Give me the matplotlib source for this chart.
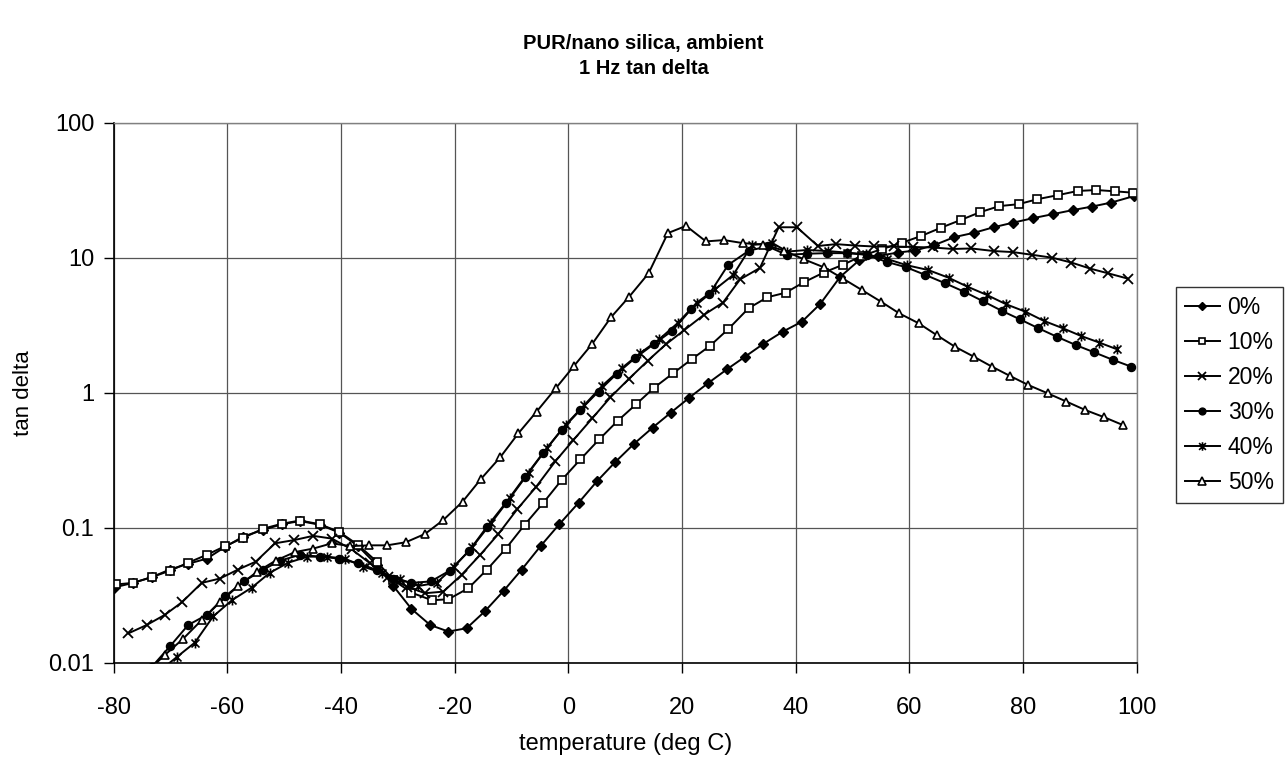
import matplotlib
matplotlib.use("Agg")
import matplotlib.pyplot as plt
from matplotlib.path import Path

plt.rcParams["font.family"] = ["Liberation Sans", "DejaVu Sans"]
plt.rcParams["axes.unicode_minus"] = False

labels = ["0%", "10%", "20%", "30%", "40%", "50%"]

temp_0 = [-80, -76.6, -73.3, -70.1, -66.9, -63.6, -60.4, -57.2, -53.8, -50.4,
          -47.2, -43.7, -40.3, -37.0, -33.7, -30.8, -27.6, -24.3, -21.1, -17.9,
          -14.7, -11.4, -8.2, -4.9, -1.6, 1.8, 5.0, 8.2, 11.6, 14.8,
          18.0, 21.3, 24.5, 27.9, 31.1, 34.3, 37.7, 41.1, 44.3, 47.8,
          51.2, 54.5, 57.9, 61.0, 64.4, 67.9, 71.4, 74.8, 78.3, 81.7,
          85.2, 88.7, 92.1, 95.5, 99.5]
tand_0 = [0.036, 0.039, 0.043, 0.049, 0.054, 0.059, 0.072, 0.086, 0.096, 0.106,
          0.112, 0.105, 0.092, 0.073, 0.053, 0.037, 0.025, 0.019, 0.017, 0.018,
          0.024, 0.034, 0.049, 0.073, 0.106, 0.153, 0.22, 0.305, 0.42, 0.55,
          0.71, 0.92, 1.17, 1.49, 1.85, 2.30, 2.83, 3.36, 4.54, 7.2,
          9.6, 10.3, 10.9, 11.3, 12.4, 14.2, 15.3, 16.8, 18.2, 19.6,
          21.0, 22.5, 23.9, 25.6, 28.6]

temp_10 = [-79.5, -76.6, -73.3, -70.1, -66.9, -63.6, -60.4, -57.2, -53.8, -50.4,
           -47.2, -43.7, -40.3, -37.0, -33.7, -30.8, -27.6, -24.0, -21.1, -17.6,
           -14.3, -11.0, -7.7, -4.4, -1.2, 2.1, 5.4, 8.7, 11.9, 15.1,
           18.4, 21.7, 24.9, 28.1, 31.7, 35.0, 38.2, 41.5, 44.9, 48.4,
           51.6, 55.2, 58.7, 62.1, 65.6, 69.0, 72.4, 75.8, 79.2, 82.5,
           86.2, 89.6, 92.9, 96.2, 99.3]
tand_10 = [0.038, 0.039, 0.043, 0.048, 0.055, 0.063, 0.073, 0.084, 0.098, 0.107,
           0.113, 0.106, 0.093, 0.0745, 0.056, 0.041, 0.033, 0.029, 0.0295, 0.0356,
           0.049, 0.070, 0.105, 0.153, 0.225, 0.32, 0.45, 0.62, 0.82, 1.09,
           1.39, 1.77, 2.22, 2.95, 4.22, 5.09, 5.5, 6.6, 7.75, 8.9,
           10.3, 11.6, 12.9, 14.5, 16.7, 19.0, 21.7, 24.1, 24.9, 27.1,
           29.1, 31.2, 31.7, 31.0, 30.3]

temp_20 = [-77.4, -74.2, -71.0, -68.0, -64.5, -61.3, -58.1, -55.0, -51.6, -48.2,
           -44.9, -41.6, -38.1, -34.9, -31.7, -28.4, -25.2, -22.0, -18.8, -15.5,
           -12.3, -9.0, -5.7, -2.3, 0.9, 4.2, 7.4, 10.6, 14.0, 17.2,
           20.4, 23.8, 27.2, 30.2, 33.7, 37.0, 40.2, 43.9, 47.1, 50.4,
           53.8, 57.2, 60.6, 64.1, 67.6, 70.9, 74.8, 78.2, 81.6, 85.1,
           88.5, 91.8, 95.0, 98.4]
tand_20 = [0.0165, 0.019, 0.0226, 0.028, 0.039, 0.042, 0.049, 0.056, 0.0766, 0.081,
           0.087, 0.083, 0.069, 0.0545, 0.0433, 0.0366, 0.0327, 0.0336, 0.0447, 0.063,
           0.090, 0.137, 0.20, 0.31, 0.447, 0.646, 0.925, 1.26, 1.73, 2.29,
           2.91, 3.76, 4.65, 6.9, 8.4, 16.8, 16.8, 12.2, 12.6, 12.3,
           12.1, 12.1, 12.0, 11.9, 11.6, 11.7, 11.2, 11.0, 10.5, 10.0,
           9.2, 8.3, 7.65, 7.0]

temp_30 = [-73.3, -70.1, -66.9, -63.6, -60.4, -57.1, -53.8, -50.7, -47.2, -43.7,
           -40.3, -37.0, -33.7, -30.8, -27.6, -24.2, -20.9, -17.5, -14.3, -11.0,
           -7.7, -4.4, -1.2, 2.1, 5.3, 8.5, 11.7, 15.1, 18.3, 21.6,
           24.8, 28.1, 31.8, 35.1, 38.4, 42.0, 45.5, 49.0, 52.5, 56.0,
           59.4, 62.8, 66.3, 69.6, 72.9, 76.3, 79.4, 82.7, 85.9, 89.3,
           92.5, 95.8, 99.0]
tand_30 = [0.0093, 0.0132, 0.019, 0.0226, 0.031, 0.040, 0.0486, 0.057, 0.063, 0.061,
           0.059, 0.0545, 0.0486, 0.042, 0.039, 0.040, 0.048, 0.067, 0.102, 0.153,
           0.236, 0.36, 0.53, 0.745, 1.02, 1.38, 1.80, 2.30, 2.88, 4.15,
           5.38, 8.83, 11.3, 12.1, 10.5, 10.7, 10.8, 10.8, 10.5, 9.3,
           8.5, 7.45, 6.46, 5.6, 4.77, 4.03, 3.50, 3.0, 2.60, 2.25,
           1.99, 1.75, 1.56]

temp_40 = [-72.2, -68.9, -65.7, -62.5, -59.2, -55.7, -52.5, -49.3, -45.9, -42.5,
           -39.3, -36.1, -32.8, -29.6, -26.4, -23.2, -20.1, -16.9, -13.6, -10.3,
           -7.0, -3.8, -0.5, 2.8, 6.0, 9.4, 12.6, 16.0, 19.2, 22.6,
           25.8, 29.0, 32.3, 35.8, 38.5, 42.0, 45.6, 49.0, 52.4, 56.0,
           59.5, 63.3, 66.9, 70.2, 73.6, 77.0, 80.4, 83.6, 87.0, 90.2,
           93.4, 96.6]
tand_40 = [0.0085, 0.011, 0.0141, 0.022, 0.029, 0.036, 0.0464, 0.055, 0.061, 0.061,
           0.059, 0.0514, 0.0464, 0.0415, 0.037, 0.039, 0.0514, 0.072, 0.108, 0.165,
           0.255, 0.387, 0.577, 0.81, 1.13, 1.52, 1.96, 2.49, 3.27, 4.65,
           5.83, 7.45, 12.4, 12.9, 11.1, 11.4, 11.2, 10.9, 10.6, 9.8,
           8.8, 8.1, 7.1, 6.1, 5.3, 4.52, 3.98, 3.41, 3.0, 2.63,
           2.35, 2.09]

temp_50 = [-74.2, -71.0, -67.8, -64.5, -61.3, -58.1, -54.8, -51.5, -48.1, -44.9,
           -41.6, -38.4, -35.0, -31.9, -28.6, -25.2, -22.0, -18.6, -15.4, -12.0,
           -8.8, -5.6, -2.2, 1.0, 4.2, 7.5, 10.7, 14.1, 17.5, 20.7,
           24.2, 27.4, 30.8, 34.3, 37.9, 41.5, 44.9, 48.3, 51.6, 55.0,
           58.2, 61.6, 64.8, 68.0, 71.3, 74.5, 77.7, 80.9, 84.3, 87.6,
           90.9, 94.3, 97.5]
tand_50 = [0.0085, 0.0114, 0.015, 0.0207, 0.028, 0.037, 0.047, 0.057, 0.066, 0.070,
           0.0766, 0.073, 0.074, 0.074, 0.078, 0.090, 0.114, 0.156, 0.229, 0.332,
           0.50, 0.723, 1.08, 1.58, 2.30, 3.62, 5.14, 7.65, 15.2, 17.2,
           13.2, 13.5, 12.8, 12.5, 11.3, 9.7, 8.5, 7.0, 5.77, 4.72,
           3.87, 3.27, 2.67, 2.19, 1.85, 1.56, 1.33, 1.14, 0.99, 0.86,
           0.745, 0.657, 0.577]

x_ticks = [-80, -60, -40, -20, 0, 20, 40, 60, 80, 100]
y_ticks = [0.01, 0.1, 1, 10, 100]
y_tick_labels = ["0.01", "0.1", "1", "10", "100"]

# asterisk marker: an x with a vertical bar through it
star = Path([(-1, -1), (1, 1), (-1, 1), (1, -1), (0, -1.25), (0, 1.25)],
            [Path.MOVETO, Path.LINETO, Path.MOVETO, Path.LINETO, Path.MOVETO, Path.LINETO])

series = [
    (temp_0, tand_0, dict(marker="D", ms=4.8, mfc="black")),
    (temp_10, tand_10, dict(marker="s", ms=5.4, mfc="white", mew=1.2)),
    (temp_20, tand_20, dict(marker="x", ms=6.8, mew=1.3)),
    (temp_30, tand_30, dict(marker="o", ms=5.8, mfc="black")),
    (temp_40, tand_40, dict(marker=star, ms=7.2, mew=1.2)),
    (temp_50, tand_50, dict(marker="^", ms=6.3, mfc="white", mew=1.2)),
]

fig = plt.figure(figsize=(12.87, 7.61), dpi=100)
ax = fig.add_axes([0.0883, 0.1292, 0.7950, 0.7096])

for (t, v, style), lab in zip(series, labels):
    ax.plot(t, v, color="black", lw=1.4, mec="black", label=lab, **style)

ax.set_yscale("log")
ax.set_xlim(-80, 100)
ax.set_ylim(0.01, 100)
ax.set_xticks(x_ticks)
ax.set_yticks(y_ticks)
ax.set_yticklabels(y_tick_labels)
ax.yaxis.set_minor_locator(plt.NullLocator())
ax.tick_params(axis="both", direction="out", length=7, width=1, labelsize=17, colors="black")
ax.tick_params(axis="x", pad=18)
ax.tick_params(axis="y", pad=7)
ax.grid(True, which="major", color="#555555", lw=0.9)
ax.set_axisbelow(True)

for side in ["top", "right"]:
    ax.spines[side].set_color("#808080")
    ax.spines[side].set_linewidth(1.0)
for side in ["left", "bottom"]:
    ax.spines[side].set_color("black")
    ax.spines[side].set_linewidth(1.2)

ax.set_xlabel("temperature (deg C)", fontsize=17, labelpad=10)
ax.set_ylabel("tan delta", fontsize=16, labelpad=10)

fig.text(0.5, 1 - 43 / 761, "PUR/nano silica, ambient", ha="center", va="center",
         fontsize=14.5, fontweight="bold")
fig.text(0.5, 1 - 68 / 761, "1 Hz tan delta", ha="center", va="center",
         fontsize=14.5, fontweight="bold")

leg = ax.legend(loc="upper left", bbox_to_anchor=(0.9138, 0.623), bbox_transform=fig.transFigure,
                borderaxespad=0, frameon=True, fancybox=False, edgecolor="black",
                fontsize=16.5, handlelength=1.5, handletextpad=0.35, labelspacing=0.52,
                borderpad=0.4, markerscale=0.85)
leg.get_frame().set_linewidth(1.0)

fig.savefig("out.png", dpi=100)
